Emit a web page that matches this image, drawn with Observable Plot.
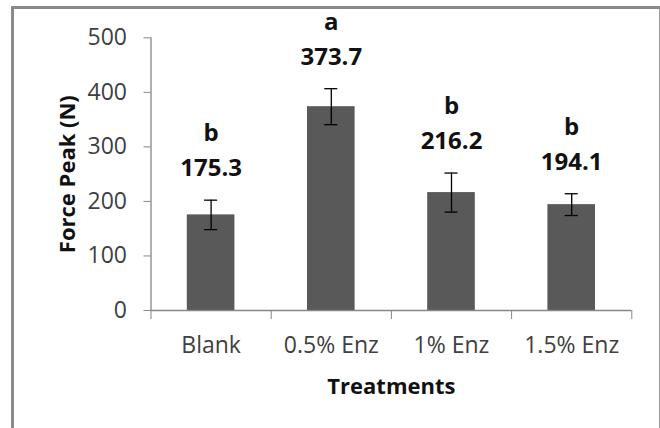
<!DOCTYPE html>
<html>
<head>
<meta charset="utf-8">
<script src="https://cdn.jsdelivr.net/npm/d3@7"></script>
<script src="https://cdn.jsdelivr.net/npm/@observablehq/plot@0.6"></script>
<style>
  html, body { margin: 0; padding: 0; background: #ffffff; }
  #wrap { position: relative; width: 660px; height: 428px; overflow: hidden; }
  #border { position: absolute; left: 11px; top: 6px; width: 649px; height: 440px;
            box-sizing: border-box; border-left: 3px solid #8a8a8a; border-top: 3px solid #8a8a8a;
            border-right: 1px solid #9a9a9a; pointer-events: none; }
  svg { display: block; }
</style>
</head>
<body>
<div id="wrap"><div id="border"></div></div>
<script>
const treatments = ["Blank", "0.5% Enz", "1% Enz", "1.5% Enz"];
const forcePeak = [175.3, 373.7, 216.2, 194.1];
const errors = [27, 33, 35.8, 20];
const letters = ["b", "a", "b", "b"];
const yTicks = [0, 100, 200, 300, 400, 500];
const xTitle = "Treatments";
const yTitle = "Force Peak (N)";

const data = treatments.map((t, i) => ({t, i, v: forcePeak[i], e: errors[i], l: letters[i]}));

const chart = Plot.plot({
  width: 660,
  height: 428,
  marginTop: 37.3,
  marginBottom: 118,
  marginLeft: 150.5,
  marginRight: 28.7,
  style: {fontFamily: "'Open Sans', sans-serif", background: "transparent"},
  x: {type: "linear", domain: [0, treatments.length], axis: null},
  y: {domain: [0, 500], axis: null},
  marks: [
    Plot.rectY(data, {x1: d => d.i, x2: d => d.i + 1, y: "v", insetLeft: 36.3, insetRight: 36.3, fill: "#595959"}),
    Plot.ruleX(data, {x: d => d.i + 0.5, y1: d => d.v - d.e, y2: d => d.v + d.e, stroke: "#000", strokeWidth: 1.3}),
    Plot.ruleY(data, {x1: d => d.i + 0.5, x2: d => d.i + 0.5, y: d => d.v + d.e, insetLeft: -6.5, insetRight: -6.5, stroke: "#000", strokeWidth: 1.3}),
    Plot.ruleY(data, {x1: d => d.i + 0.5, x2: d => d.i + 0.5, y: d => d.v - d.e, insetLeft: -6.5, insetRight: -6.5, stroke: "#000", strokeWidth: 1.3}),
    Plot.ruleY([0], {stroke: "#868686", strokeWidth: 1.3}),
    Plot.ruleX([0], {stroke: "#868686", strokeWidth: 1.3}),
    Plot.axisY({ticks: yTicks, tickSize: 7, tickPadding: 17, fontSize: 23, fill: "#404040", stroke: "#868686", label: null}),
    Plot.axisX({ticks: d3.range(treatments.length + 1), tickSize: 9, tickFormat: () => "", stroke: "#868686", label: null}),
    Plot.text(data, {x: d => d.i + 0.5, text: "t", frameAnchor: "bottom", lineAnchor: "bottom", dy: 42.7, fontSize: 23, fill: "#404040"}),
    Plot.text(data, {x: d => d.i + 0.5, y: d => d.v + d.e, text: d => d.v.toFixed(1), dy: -24, lineAnchor: "bottom", fontSize: 24, fontWeight: "bold", fill: "#111"}),
    Plot.text(data, {x: d => d.i + 0.5, y: d => d.v + d.e, text: "l", dy: -59, lineAnchor: "bottom", fontSize: 24, fontWeight: "bold", fill: "#111"}),
    Plot.text([xTitle], {frameAnchor: "bottom", textAnchor: "middle", lineAnchor: "bottom", dy: 83, fontSize: 22, fontWeight: "bold", fill: "#111"}),
    Plot.text([yTitle], {frameAnchor: "left", textAnchor: "middle", lineAnchor: "middle", rotate: -90, dx: -83.5, fontSize: 22, fontWeight: "bold", fill: "#111"})
  ]
});
document.getElementById("wrap").prepend(chart);
</script>
</body>
</html>
